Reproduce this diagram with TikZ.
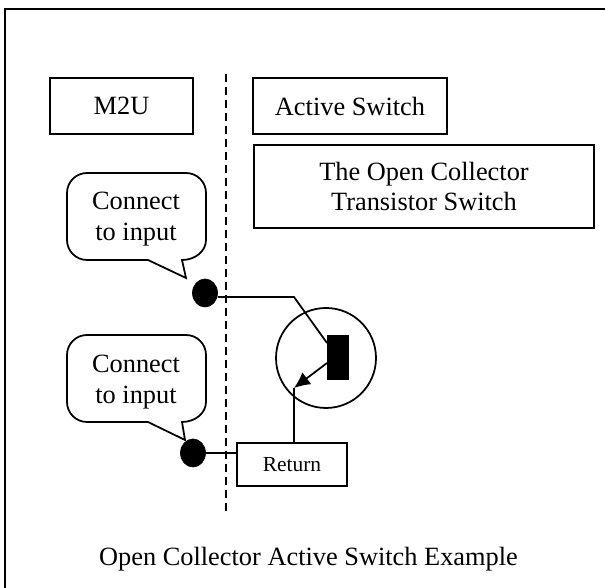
\documentclass[tikz,border=0pt]{standalone}
\usepackage{fontspec}
\setmainfont{Liberation Serif}
\usetikzlibrary{arrows.meta,shapes.geometric}
\tikzset{
   line/.style={line width=1pt},
   label box/.style={draw,line,align=center,inner sep=0pt,font=\fontsize{15pt}{17.6pt}\selectfont},
   tip dot/.style={draw,fill=black,shape=ellipse,inner sep=0pt,minimum width=0.50cm,minimum height=0.56cm},
   bubble text/.style={align=center,inner sep=0pt,font=\fontsize{15pt}{17.6pt}\selectfont}
}
\begin{document}
\begin{tikzpicture}
   \useasboundingbox (0,0) rectangle (12.1,11.76);
   % frame, only its top and left edges fall on the page
   \coordinate (frameleft) at (0.10,0);
   \coordinate (framecorner) at (0.10,11.58);
   \coordinate (frameright) at (12.1,11.58);
   \draw[line width=1.2pt] (frameleft) -- (framecorner) -- (frameright);
   % labels along the top
   \node[label box,minimum width=2.86cm,minimum height=1.12cm] (mtwou) at (2.43,9.64) {M2U};
   \node[label box,minimum width=3.87cm,minimum height=1.12cm] (active) at (7.00,9.64) {Active Switch};
   \node[label box,minimum width=6.81cm,minimum height=1.66cm] (title) at (8.48,8.03) {The Open Collector\\Transistor Switch};
   % divider
   \coordinate (divtop) at (4.52,10.28);
   \coordinate (divbot) at (4.52,1.46);
   \draw[line,dash pattern=on 0.16cm off 0.10cm] (divtop) -- (divbot);
   % speech bubbles
   \draw[line] (2.96,6.56) -- (1.74,6.56) arc[start angle=270,end angle=180,radius=0.4] -- (1.34,7.90)
      arc[start angle=180,end angle=90,radius=0.4] -- (3.72,8.30)
      arc[start angle=90,end angle=0,radius=0.4] -- (4.12,6.96)
      arc[start angle=0,end angle=-90,x radius=0.48,y radius=0.4] -- (3.72,6.20) -- cycle;
   \node[bubble text] (inputa) at (2.72,7.37) {Connect\\to input};
   \draw[line] (2.96,3.32) -- (1.74,3.32) arc[start angle=270,end angle=180,radius=0.4] -- (1.34,4.66)
      arc[start angle=180,end angle=90,radius=0.4] -- (3.72,5.06)
      arc[start angle=90,end angle=0,radius=0.4] -- (4.12,3.72)
      arc[start angle=0,end angle=-90,x radius=0.48,y radius=0.4] -- (3.70,2.96) -- cycle;
   \node[bubble text] (inputb) at (2.72,4.12) {Connect\\to input};
   % contacts
   \node[tip dot] (dota) at (4.10,5.90) {};
   \node[tip dot] (dotb) at (3.86,2.70) {};
   % transistor
   \node[draw,line,shape=circle,inner sep=0pt,minimum size=2.00cm] (case) at (6.52,4.60) {};
   \node[draw,fill=black,inner sep=0pt,minimum width=0.42cm,minimum height=0.88cm] (base) at (6.75,4.62) {};
   \node[label box,font=\fontsize{12.2pt}{14pt}\selectfont,minimum width=2.20cm,minimum height=0.86cm] (return) at (5.84,2.47) {Return};
   \coordinate (bend) at (5.88,5.82);
   \coordinate (emitter) at (5.88,4.00);
   \coordinate (basea) at (6.54,4.90);
   \coordinate (baseb) at (6.54,4.50);
   \draw[line] ([yshift=-0.08cm]dota.east) -- (bend) -- (basea);
   \draw[line,-{Latex[length=0.32cm,width=0.30cm]}] (baseb) -- (emitter);
   \draw[line] (emitter) -- (emitter |- return.north);
   \draw[line] (dotb) -- (dotb -| return.west);
   \node[font=\fontsize{15pt}{17.6pt}\selectfont,inner sep=0pt] (caption) at (6.17,0.58) {Open Collector Active Switch Example};
\end{tikzpicture}
\end{document}
